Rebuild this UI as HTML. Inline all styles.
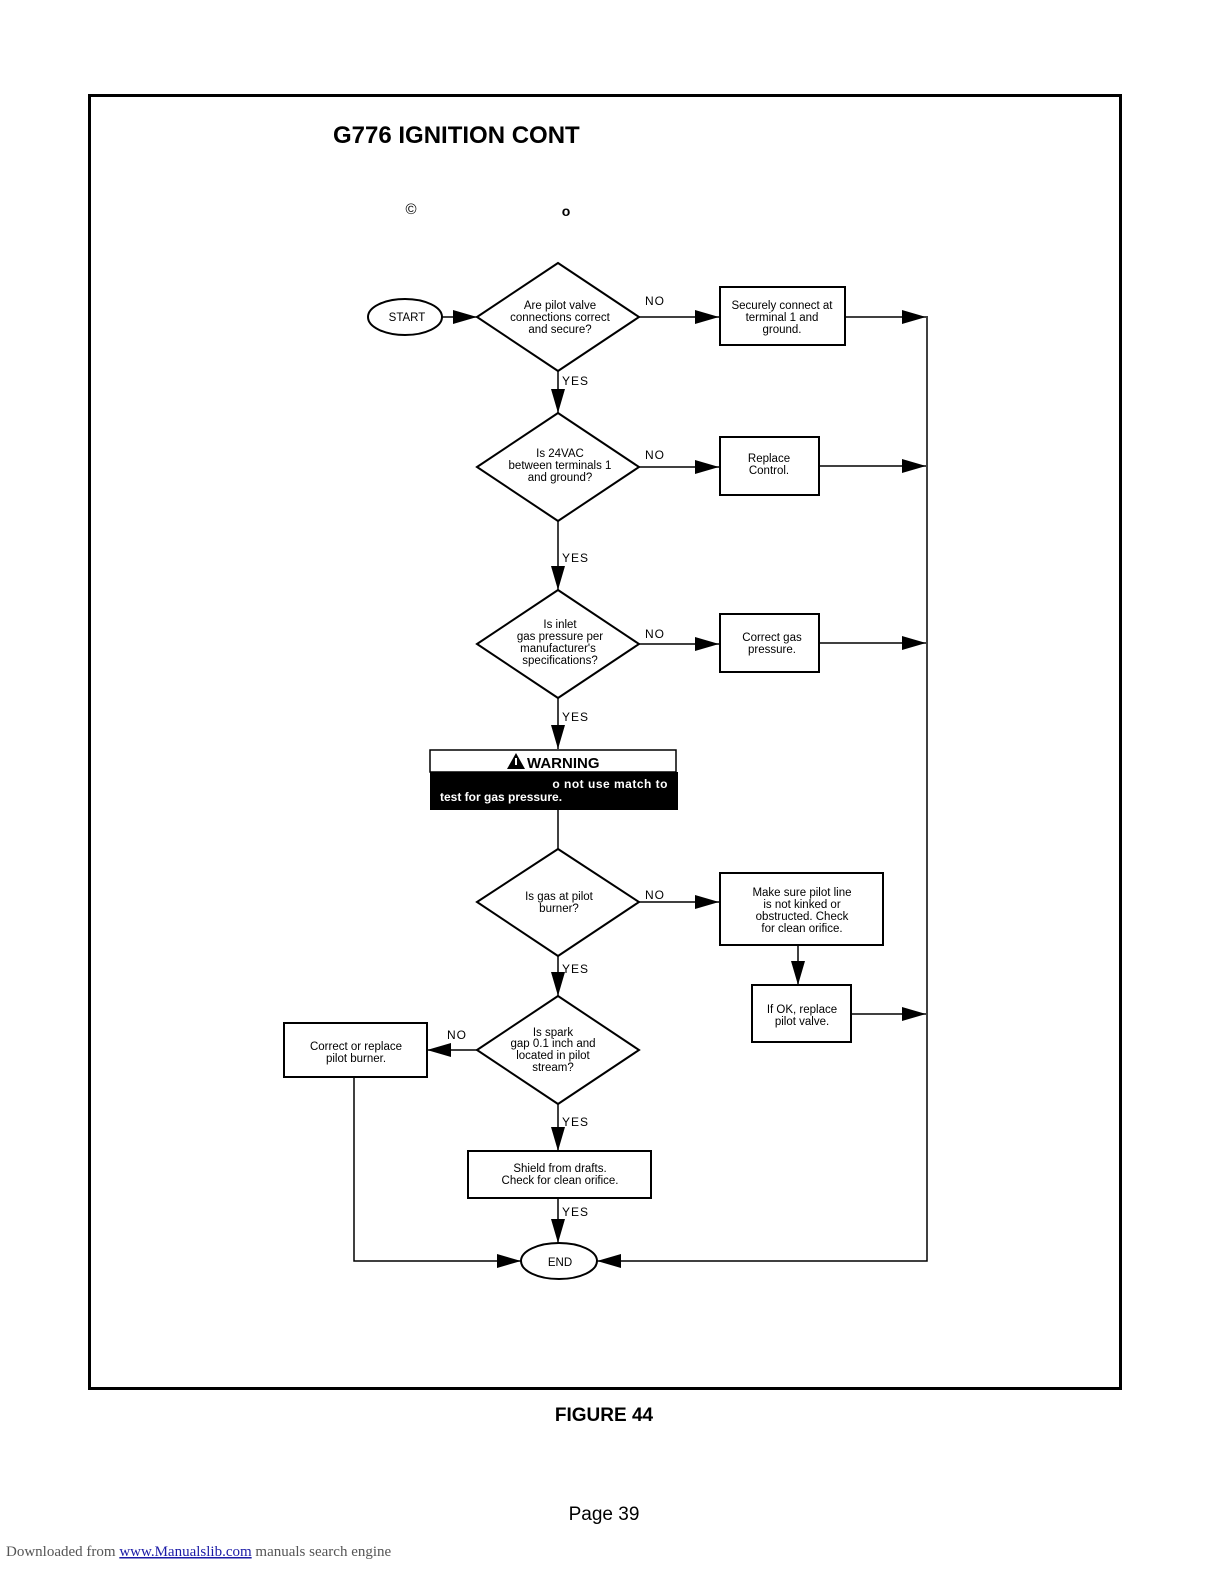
<!DOCTYPE html>
<html><head><meta charset="utf-8"><style>
html,body{margin:0;padding:0;background:#fff;overflow:hidden;width:1224px;height:1584px;}
svg{display:block;position:absolute;left:0;top:0;}
.t{font-family:"Liberation Sans",sans-serif;font-size:11.5px;fill:#000;text-anchor:middle;}
.l{font-family:"Liberation Sans",sans-serif;font-size:12px;fill:#000;letter-spacing:1px;}
</style></head><body>
<svg width="1224" height="1584" viewBox="0 0 1224 1584" xmlns="http://www.w3.org/2000/svg">
<defs>
<marker id="a" markerWidth="24" markerHeight="14" refX="24" refY="7" orient="auto" markerUnits="userSpaceOnUse">
<path d="M0,0 L24,7 L0,14 Z" fill="#000"/></marker>
</defs>
<rect x="89.5" y="95.5" width="1031" height="1293" fill="none" stroke="#000" stroke-width="3"/>
<text x="333" y="143" font-family="Liberation Sans, sans-serif" font-weight="bold" font-size="24">G776 IGNITION CONT</text>
<text x="411" y="214" font-family="Liberation Sans, sans-serif" font-size="15" text-anchor="middle">©</text>
<text x="566" y="216" font-family="Liberation Sans, sans-serif" font-size="14" font-weight="bold" text-anchor="middle">o</text>

<g fill="none" stroke="#000" stroke-width="2">
<ellipse cx="405" cy="317" rx="37" ry="18"/>
<polygon points="477,317 558,263 639,317 558,371" fill="#fff"/>
<rect x="720" y="287" width="125" height="58"/>
<polygon points="477,467 558,413 639,467 558,521"/>
<rect x="720" y="437" width="99" height="58"/>
<polygon points="477,644 558,590 639,644 558,698"/>
<rect x="720" y="614" width="99" height="58"/>
<polygon points="477,902 558,849 639,902 558,956"/>
<rect x="720" y="873" width="163" height="72"/>
<rect x="752" y="985" width="99" height="57"/>
<polygon points="477,1050 558,996 639,1050 558,1104"/>
<rect x="284" y="1023" width="143" height="54"/>
<rect x="468" y="1151" width="183" height="47"/>
<ellipse cx="559" cy="1261" rx="38" ry="18"/>
</g>
<g stroke="#000" stroke-width="1.5" fill="none">
<line x1="442" y1="317" x2="477" y2="317" marker-end="url(#a)"/>
<line x1="639" y1="317" x2="719" y2="317" marker-end="url(#a)"/>
<line x1="845" y1="317" x2="926" y2="317" marker-end="url(#a)"/>
<line x1="558" y1="371" x2="558" y2="413" marker-end="url(#a)"/>
<line x1="639" y1="467" x2="719" y2="467" marker-end="url(#a)"/>
<line x1="819" y1="466" x2="926" y2="466" marker-end="url(#a)"/>
<line x1="558" y1="521" x2="558" y2="590" marker-end="url(#a)"/>
<line x1="639" y1="644" x2="719" y2="644" marker-end="url(#a)"/>
<line x1="819" y1="643" x2="926" y2="643" marker-end="url(#a)"/>
<line x1="558" y1="698" x2="558" y2="749" marker-end="url(#a)"/>
<line x1="558" y1="810" x2="558" y2="849"/>
<line x1="639" y1="902" x2="719" y2="902" marker-end="url(#a)"/>
<line x1="798" y1="945" x2="798" y2="985" marker-end="url(#a)"/>
<line x1="851" y1="1014" x2="926" y2="1014" marker-end="url(#a)"/>
<line x1="558" y1="956" x2="558" y2="996" marker-end="url(#a)"/>
<line x1="477" y1="1050" x2="427" y2="1050" marker-end="url(#a)"/>
<line x1="558" y1="1104" x2="558" y2="1151" marker-end="url(#a)"/>
<line x1="558" y1="1198" x2="558" y2="1243" marker-end="url(#a)"/>
<polyline points="354,1077 354,1261 521,1261" marker-end="url(#a)"/>
<polyline points="927,316 927,1261 597,1261" marker-end="url(#a)"/>
</g>

<rect x="430" y="750" width="246" height="22" fill="#fff" stroke="#000" stroke-width="1.5"/>
<rect x="430" y="772" width="248" height="38" fill="#000"/>
<polygon points="507,769 516,753 525,769" fill="#000"/>
<rect x="515" y="758" width="2" height="7" fill="#fff"/>
<text x="527" y="768" font-family="Liberation Sans, sans-serif" font-weight="bold" font-size="15">WARNING</text>
<text x="668" y="788" font-family="Liberation Sans, sans-serif" font-weight="bold" font-size="12" fill="#fff" text-anchor="end" letter-spacing="0.5">o not use match to</text>
<text x="440" y="801" font-family="Liberation Sans, sans-serif" font-weight="bold" font-size="12" fill="#fff">test for gas pressure.</text>

<text class="t" x="407" y="321" font-size="12.5">START</text>
<text class="t" x="560" y="309">Are pilot valve</text>
<text class="t" x="560" y="321">connections correct</text>
<text class="t" x="560" y="333">and secure?</text>
<text class="t" x="782" y="309">Securely connect at</text>
<text class="t" x="782" y="321">terminal 1 and</text>
<text class="t" x="782" y="333">ground.</text>
<text class="t" x="560" y="457">Is 24VAC</text>
<text class="t" x="560" y="469">between terminals 1</text>
<text class="t" x="560" y="481">and ground?</text>
<text class="t" x="769" y="462">Replace</text>
<text class="t" x="769" y="474">Control.</text>
<text class="t" x="560" y="628">Is inlet</text>
<text class="t" x="560" y="640">gas pressure per</text>
<text class="t" x="558" y="652">manufacturer's</text>
<text class="t" x="560" y="664">specifications?</text>
<text class="t" x="772" y="641">Correct gas</text>
<text class="t" x="772" y="653">pressure.</text>
<text class="t" x="559" y="900">Is gas at pilot</text>
<text class="t" x="559" y="912">burner?</text>
<text class="t" x="802" y="896">Make sure pilot line</text>
<text class="t" x="802" y="908">is not kinked or</text>
<text class="t" x="802" y="920">obstructed. Check</text>
<text class="t" x="802" y="932">for clean orifice.</text>
<text class="t" x="802" y="1013">If OK, replace</text>
<text class="t" x="802" y="1025">pilot valve.</text>
<text class="t" x="553" y="1036">Is spark</text>
<text class="t" x="553" y="1047">gap 0.1 inch and</text>
<text class="t" x="553" y="1059">located in pilot</text>
<text class="t" x="553" y="1071">stream?</text>
<text class="t" x="356" y="1050">Correct or replace</text>
<text class="t" x="356" y="1062">pilot burner.</text>
<text class="t" x="560" y="1172">Shield from drafts.</text>
<text class="t" x="560" y="1184">Check for clean orifice.</text>
<text class="t" x="560" y="1266" font-size="12.5">END</text>

<text class="l" x="645" y="305">NO</text>
<text class="l" x="645" y="459">NO</text>
<text class="l" x="645" y="638">NO</text>
<text class="l" x="645" y="899">NO</text>
<text class="l" x="447" y="1039">NO</text>
<text class="l" x="562" y="385">YES</text>
<text class="l" x="562" y="562">YES</text>
<text class="l" x="562" y="721">YES</text>
<text class="l" x="562" y="973">YES</text>
<text class="l" x="562" y="1126">YES</text>
<text class="l" x="562" y="1216">YES</text>

<text x="604" y="1421" font-family="Liberation Sans, sans-serif" font-weight="bold" font-size="19" text-anchor="middle">FIGURE 44</text>
<text x="604" y="1520" font-family="Liberation Sans, sans-serif" font-size="19" text-anchor="middle">Page 39</text>
<text x="6" y="1556" font-family="Liberation Serif, serif" font-size="15" fill="#555">Downloaded from <tspan fill="#1a1aa6" text-decoration="underline">www.Manualslib.com</tspan>  manuals search engine</text>
</svg>
</body></html>
